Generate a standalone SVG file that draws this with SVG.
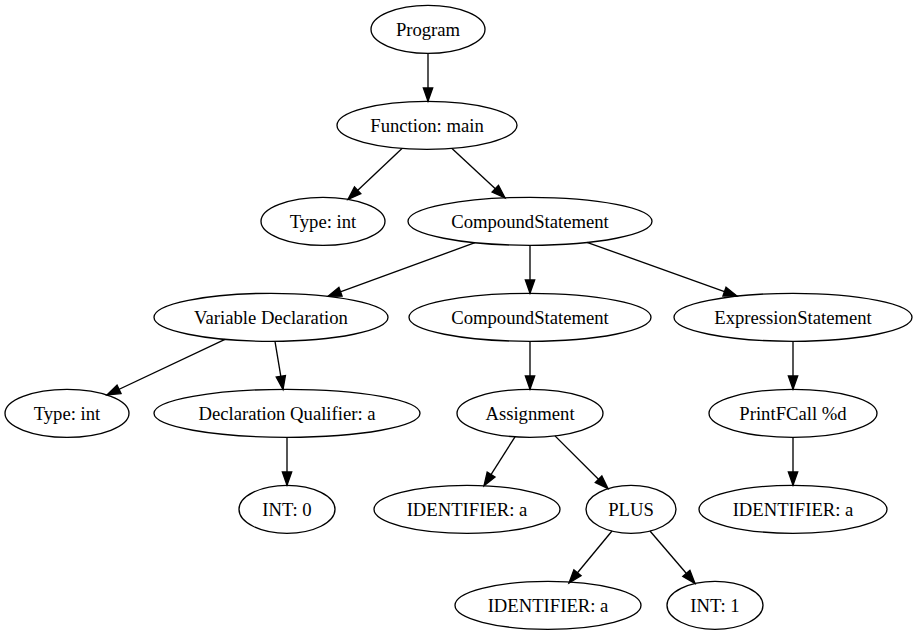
<svg xmlns="http://www.w3.org/2000/svg" width="918" height="635" viewBox="0 0 918 635">
<style>
.n ellipse{fill:none;stroke:#000;stroke-width:1.33}
.n text{font-family:'Liberation Serif','Times New Roman',serif;font-size:18.67px;text-anchor:middle;fill:#000}
#edges line{stroke:#000;stroke-width:1.33;marker-end:url(#arr)}
</style>
<defs>
<marker id="arr" markerUnits="userSpaceOnUse" markerWidth="16" markerHeight="12" refX="13.3" refY="4.67" orient="auto" overflow="visible">
<path d="M0,0 L13.3,4.67 L0,9.33 Z" fill="#000" stroke="#000" stroke-width="1.33"/>
</marker>
</defs>
<rect width="918" height="635" fill="#fff"/>
<g id="edges">
<line x1="428" y1="53.3" x2="428" y2="101.3"/>
<line x1="402" y1="148.4" x2="348" y2="199.4"/>
<line x1="452" y1="148.4" x2="505" y2="197.8"/>
<line x1="475" y1="242.7" x2="328" y2="296.3"/>
<line x1="530" y1="245.3" x2="530" y2="293.3"/>
<line x1="587" y1="242.3" x2="737" y2="296.1"/>
<line x1="225" y1="339.4" x2="107" y2="395"/>
<line x1="275" y1="341.3" x2="283" y2="389.4"/>
<line x1="287" y1="437.3" x2="287" y2="485.3"/>
<line x1="530" y1="341.3" x2="530" y2="389.3"/>
<line x1="515" y1="436.8" x2="484" y2="485.7"/>
<line x1="555" y1="435.9" x2="608" y2="488.7"/>
<line x1="793" y1="341.3" x2="793" y2="389.3"/>
<line x1="793" y1="437.3" x2="793" y2="485.3"/>
<line x1="612" y1="531" x2="569" y2="583"/>
<line x1="650" y1="531" x2="695" y2="583.5"/>
</g>
<g font-family="Liberation Serif, serif">
<g id="program" class="n"><ellipse cx="428" cy="29.3" rx="57" ry="24"/><text x="428" y="35.8">Program</text></g>
<g id="function_main" class="n"><ellipse cx="427" cy="125.3" rx="90" ry="24"/><text x="427" y="131.8">Function: main</text></g>
<g id="type_int_1" class="n"><ellipse cx="323" cy="221.3" rx="62" ry="24"/><text x="323" y="227.8">Type: int</text></g>
<g id="compound_1" class="n"><ellipse cx="530" cy="221.3" rx="122" ry="24"/><text x="530" y="227.8">CompoundStatement</text></g>
<g id="var_decl" class="n"><ellipse cx="271" cy="317.3" rx="117" ry="24"/><text x="271" y="323.8">Variable Declaration</text></g>
<g id="compound_2" class="n"><ellipse cx="530" cy="317.3" rx="121" ry="24"/><text x="530" y="323.8">CompoundStatement</text></g>
<g id="expr_stmt" class="n"><ellipse cx="793" cy="317.3" rx="119" ry="24"/><text x="793" y="323.8">ExpressionStatement</text></g>
<g id="type_int_2" class="n"><ellipse cx="67" cy="413.3" rx="62" ry="24"/><text x="67" y="419.8">Type: int</text></g>
<g id="decl_qual" class="n"><ellipse cx="287" cy="413.3" rx="133" ry="24"/><text x="287" y="419.8">Declaration Qualifier: a</text></g>
<g id="assignment" class="n"><ellipse cx="530" cy="413.3" rx="73" ry="24"/><text x="530" y="419.8">Assignment</text></g>
<g id="printf" class="n"><ellipse cx="793" cy="413.3" rx="84" ry="24"/><text x="793" y="419.8">PrintFCall %d</text></g>
<g id="int_0" class="n"><ellipse cx="287" cy="509.3" rx="48" ry="24"/><text x="287" y="515.8">INT: 0</text></g>
<g id="ident_1" class="n"><ellipse cx="467" cy="509.3" rx="93" ry="24"/><text x="467" y="515.8">IDENTIFIER: a</text></g>
<g id="plus" class="n"><ellipse cx="631" cy="509.3" rx="45" ry="24"/><text x="631" y="515.8">PLUS</text></g>
<g id="ident_2" class="n"><ellipse cx="793" cy="509.3" rx="94" ry="24"/><text x="793" y="515.8">IDENTIFIER: a</text></g>
<g id="ident_3" class="n"><ellipse cx="548" cy="605.3" rx="93" ry="24"/><text x="548" y="611.8">IDENTIFIER: a</text></g>
<g id="int_1" class="n"><ellipse cx="715" cy="605.3" rx="48" ry="24"/><text x="715" y="611.8">INT: 1</text></g>
</g>
</svg>
